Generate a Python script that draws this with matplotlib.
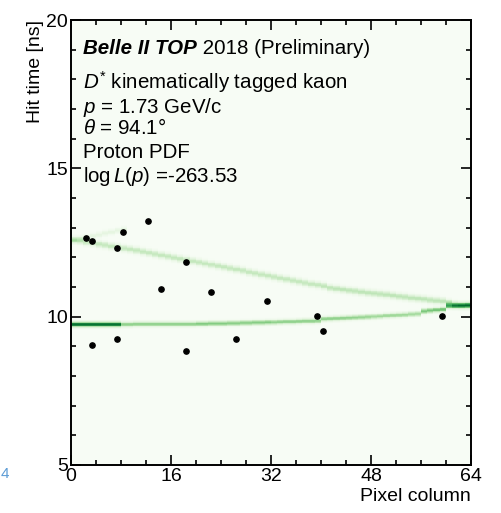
import matplotlib
matplotlib.use("Agg")
import matplotlib.pyplot as plt
import numpy as np

plt.rcParams['font.family'] = ['Liberation Sans', 'DejaVu Sans']
plt.rcParams['mathtext.fontset'] = 'custom'
plt.rcParams['mathtext.it'] = 'Liberation Sans:italic'
plt.rcParams['mathtext.rm'] = 'Liberation Sans'

# observed hits (pixel column, time in ns)
hit_col = [2.35, 3.4, 8.4, 7.4, 12.4, 18.4, 14.4, 22.4, 31.4,
           3.4, 7.4, 18.4, 26.4, 39.4, 40.4, 59.4]
hit_time = [12.64, 12.54, 12.84, 12.33, 13.23, 11.84, 10.94, 10.84, 10.54,
            9.05, 9.24, 8.83, 9.24, 10.03, 9.53, 10.03]

# proton PDF ridges: centre time per pixel column and relative weight
direct_t = [9.74] * 10 + [9.75] * 10 + \
    [9.76, 9.76, 9.77, 9.77, 9.77, 9.78, 9.78, 9.79, 9.79, 9.80,
     9.80, 9.81, 9.81, 9.82, 9.83, 9.83, 9.84, 9.85, 9.85, 9.86,
     9.92, 9.93, 9.94, 9.95, 9.96, 9.97, 9.98, 9.99, 10.00, 10.01,
     10.03, 10.04, 10.05, 10.06, 10.08, 10.09, 10.18, 10.20, 10.22, 10.24,
     10.35, 10.36, 10.37, 10.38]
direct_w = [0.85] * 8 + [0.42] * 12 + [0.46] * 12 + [0.42] * 16 + \
    [0.38] * 8 + [0.50] * 8

reflect_t = [12.58, 12.55, 12.51, 12.48, 12.44, 12.41, 12.37, 12.34, 12.30, 12.27,
             12.23, 12.19, 12.15, 12.11, 12.07, 12.03, 11.99, 11.95, 11.91, 11.87,
             11.83, 11.79, 11.75, 11.71, 11.67, 11.63, 11.59, 11.55, 11.50, 11.46,
             11.42, 11.38, 11.34, 11.30, 11.26, 11.22, 11.18, 11.14, 11.10, 11.07,
             11.03, 10.97, 10.94, 10.91, 10.88, 10.86, 10.83, 10.80, 10.78, 10.76,
             10.74, 10.71, 10.68, 10.66, 10.63, 10.61, 10.59, 10.56, 10.54, 10.52,
             10.45, 10.40, 10.38, 10.38]
reflect_w = [0.26] * 40 + [0.28] * 20 + [0.40] * 4

side_t = [12.58, 12.63, 12.67, 12.72, 12.76, 12.81, 12.85, 12.90, 12.94]
side_w = [0.12] * 9

cols = np.arange(65)
tbins = np.arange(5.0, 20.0001, 0.025)
tc = 0.5 * (tbins[:-1] + tbins[1:])
pdf = np.zeros((len(tc), 64))


def add_ridge(centres, weights, sigma):
    for c, (t0, w) in enumerate(zip(centres, weights)):
        pdf[:, c] += w * np.exp(-0.5 * ((tc - t0) / sigma) ** 2)


add_ridge(direct_t, direct_w, 0.055)
add_ridge(reflect_t, reflect_w, 0.075)
add_ridge(side_t, side_w, 0.06)

fs = 14
box_fs = 14.8

fig = plt.figure(figsize=(5.01, 5.13), dpi=100)
ax = fig.add_axes([0.1417, 0.0936, 0.7984, 0.8674])
ax.pcolormesh(cols, tbins, pdf, cmap='Greens', vmin=0, vmax=1.0, shading='flat')
ax.plot(hit_col, hit_time, 'o', color='black', ms=3.8)

ax.set_xlim(0, 64)
ax.set_ylim(5, 20)
ax.set_xticks([0, 16, 32, 48, 64])
ax.set_xticks(np.arange(0, 65, 4), minor=True)
ax.set_yticks([5, 10, 15, 20])
ax.set_yticks(np.arange(5, 21, 1), minor=True)
ax.tick_params(which='both', direction='in', top=True, right=True, width=1.2,
               labelsize=fs, pad=2)
ax.tick_params(which='major', length=7)
ax.tick_params(which='minor', length=3.5)
for s in ax.spines.values():
    s.set_linewidth(1.4)

ax.set_xlabel('Pixel column', fontsize=fs, loc='right', labelpad=2)
ax.set_ylabel('Hit time [ns]', fontsize=fs, loc='top', labelpad=2)

tx = 0.03
head = ax.text(tx, 0.937, 'Belle II TOP', transform=ax.transAxes, fontsize=box_fs,
               va='center', fontweight='bold', style='italic')
ax.annotate(' 2018 (Preliminary)', xy=(1, 0.5), xycoords=head, fontsize=box_fs,
            va='center')
ax.text(tx, 0.861, r'$D^{*}$ kinematically tagged kaon',
        transform=ax.transAxes, fontsize=box_fs, va='center')
ax.text(tx, 0.804, r'$p$ = 1.73 GeV/c',
        transform=ax.transAxes, fontsize=box_fs, va='center')
ax.text(tx, 0.757, r'$\theta$ = 94.1°',
        transform=ax.transAxes, fontsize=box_fs, va='center')
ax.text(tx, 0.703, 'Proton PDF',
        transform=ax.transAxes, fontsize=box_fs, va='center')
ax.text(tx, 0.649, r'log$\,L(p)$ =-263.53',
        transform=ax.transAxes, fontsize=box_fs, va='center')

fig.text(0.001, 0.068, '4', color='#5b9bd5', fontsize=11)

fig.savefig('out.png', dpi=100)
